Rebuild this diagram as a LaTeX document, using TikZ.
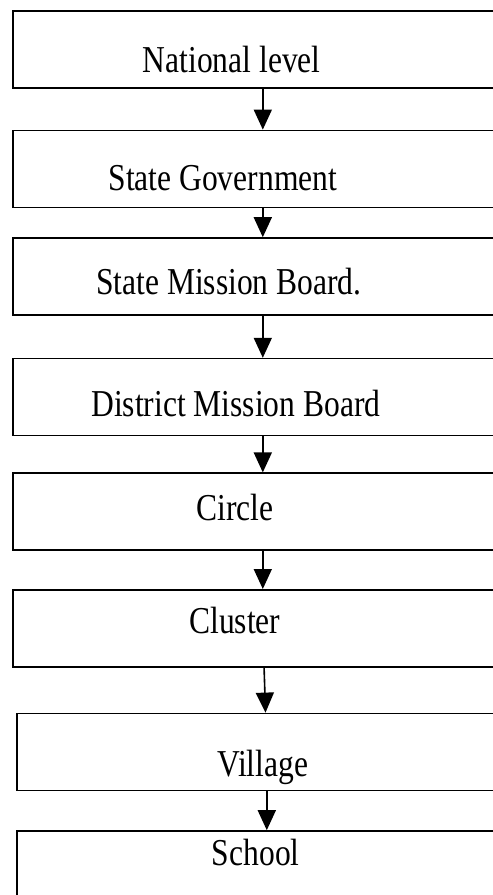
\documentclass[tikz,border=0pt]{standalone}
\usepackage{fontspec}
\setmainfont{Liberation Serif}
\newfontfamily\levelfont[FakeStretch=0.83]{Liberation Serif}
\usetikzlibrary{positioning,arrows.meta}

\begin{document}
\begin{tikzpicture}[-,>={Triangle[length=20pt,width=18pt]},line width=1.6pt,
    level box/.style={rectangle,draw,minimum width=500pt,minimum height=77pt,inner sep=0pt},
    level text/.style={font=\levelfont\fontsize{38}{44}\selectfont,inner sep=0pt}]
            \path[use as bounding box,clip] (0,0) rectangle (493pt,-895pt);

            \node[level box,anchor=north west] (NL) at (12pt,-10pt) {};
            \node[level box] (SG) [below=41pt of NL] {};
            \node[level box] (SMB) [below=29pt of SG] {};
            \node[level box] (DMB) [below=42pt of SMB] {};
            \node[level box] (CI) [below=36pt of DMB] {};
            \node[level box] (CL) [below=38pt of CI] {};
            \node[level box] (VI) [below=45pt of CL, xshift=4pt] {};
            \node[level box, minimum height=95pt] (SC) [below=39pt of VI] {};

            % labels
            \node[level text] (NLt) [above=16pt of NL.south, anchor=base, xshift=-31pt] {National level};
            \node[level text] (SGt) [above=18pt of SG.south, anchor=base, xshift=-40pt] {State Government};
            \node[level text] (SMBt) [above=21pt of SMB.south, anchor=base, xshift=-34pt] {State Mission Board.};
            \node[level text] (DMBt) [above=20pt of DMB.south, anchor=base, xshift=-27pt] {District Mission Board};
            \node[level text] (CIt) [above=31pt of CI.south, anchor=base, xshift=-28pt] {Circle};
            \node[level text] (CLt) [above=34pt of CL.south, anchor=base, xshift=-28pt] {Cluster};
            \node[level text] (VIt) [above=15pt of VI.south, anchor=base, xshift=-4pt] {Village};
            \node[level text] (SCt) [below=35pt of SC.north, anchor=base, xshift=-11pt] {School};

            \path[->]
                (NL) edge (SG)
                (SG) edge (SMB)
                (SMB) edge (DMB)
                (DMB) edge (CI)
                (CI) edge (CL)
                (CL) edge (VI)
                (VI) edge (SC)
                ;
        \end{tikzpicture}
\end{document}
